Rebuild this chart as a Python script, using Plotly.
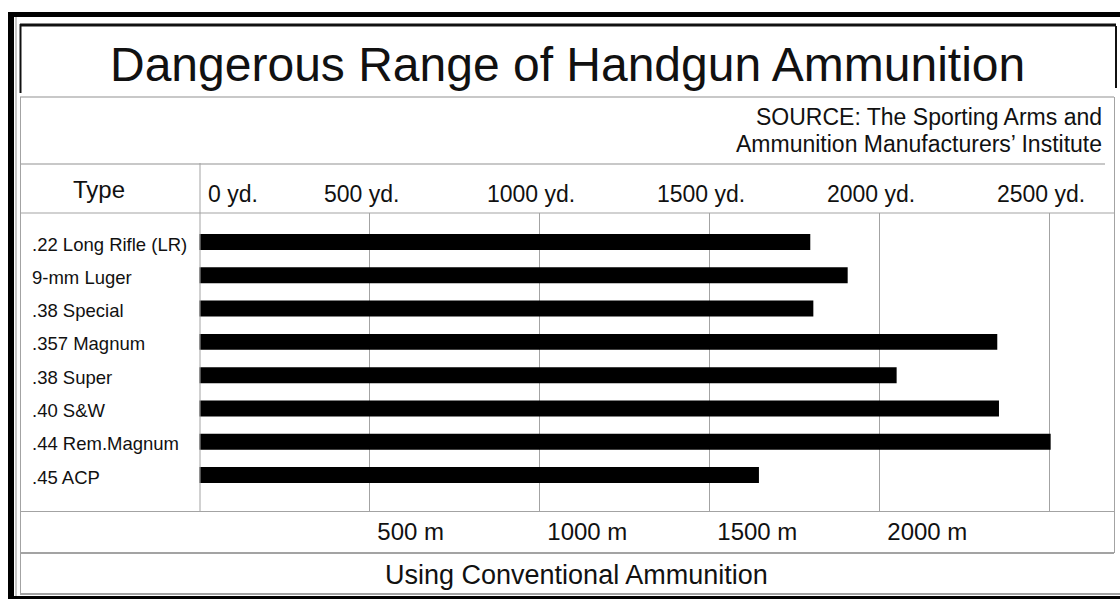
import plotly.graph_objects as go

# ---------------- data ----------------
categories = [".22 Long Rifle (LR)", "9-mm Luger", ".38 Special", ".357 Magnum",
              ".38 Super", ".40 S&W", ".44 Rem.Magnum", ".45 ACP"]
danger_range_m = [1797, 1907, 1806, 2347, 2051, 2352, 2504, 1646]

yd_tick_vals = [0, 500, 1000, 1500, 2000, 2500]
yd_tick_text = ["0 yd.", "500 yd.", "1000 yd.", "1500 yd.", "2000 yd.", "2500 yd."]
m_tick_vals = [500, 1000, 1500, 2000, 2500]
m_tick_text = ["500 m", "1000 m", "1500 m", "2000 m", ""]

title_text = "Dangerous Range of Handgun Ammunition"
source_lines = ["SOURCE: The Sporting Arms and", "Ammunition Manufacturers\u2019 Institute"]
header_text = "Type"
footer_text = "Using Conventional Ammunition"

# ---------------- layout helpers ----------------
W, H = 1120, 599
FONT = "Liberation Sans, Arial, Helvetica, sans-serif"
GRAY = "#a3a3a3"
LIGHT = "#c8c8c8"


def px(x):
    return x / W


def py(y):
    return 1 - y / H


fig = go.Figure()
fig.add_trace(go.Bar(
    x=danger_range_m, y=categories, orientation="h",
    marker=dict(color="#000000", line=dict(width=0)),
    width=0.48, hoverinfo="x+y", showlegend=False,
))

shapes = []


def rect(x0, y0, x1, y1, color):
    shapes.append(dict(type="rect", xref="paper", yref="paper",
                       x0=px(x0), x1=px(x1), y0=py(y1), y1=py(y0),
                       fillcolor=color, line=dict(width=0), layer="above"))


def hline(y, x0, x1, color=GRAY, w=1):
    shapes.append(dict(type="line", xref="paper", yref="paper",
                       x0=px(x0), x1=px(x1), y0=py(y), y1=py(y),
                       line=dict(color=color, width=w), layer="above"))


def vline(x, y0, y1, color=GRAY, w=1):
    shapes.append(dict(type="line", xref="paper", yref="paper",
                       x0=px(x), x1=px(x), y0=py(y0), y1=py(y1),
                       line=dict(color=color, width=w), layer="above"))


# outer black frame
rect(8, 12, W, 17, "#000000")
rect(8, 12, 14, H, "#000000")
rect(8, 596, W, H, "#000000")
vline(16, 17, 596, LIGHT, 2)
# title box
hline(25, 20, 1116, "#111111", 3)
vline(20.5, 24, 93, "#111111", 2)
vline(1116, 26, 88, "#111111", 2)
# table lines
hline(97, 20, 1114, LIGHT, 2)
hline(164, 20, 1105, LIGHT, 2)
vline(20.5, 97, 594, GRAY, 1)
vline(1114.5, 97, 553, GRAY, 1)
hline(213, 20, 1114, GRAY, 1)
vline(200, 163, 511, GRAY, 1)
hline(511.5, 20, 1114, GRAY, 1)
hline(553, 20, 1114, GRAY, 2)
hline(594, 20, W, GRAY, 2)

annotations = []


def text(t, x, y, size, xanchor="center", xref="paper", **kw):
    annotations.append(dict(text=t, x=(px(x) if xref == "paper" else x), xref=xref,
                            y=py(y), yref="paper", xanchor=xanchor, yanchor="middle",
                            showarrow=False, font=dict(family=FONT, size=size, color="#111111"),
                            **kw))


text(title_text, 567, 64, 48)
text(source_lines[0], 1104, 117, 23, xanchor="right")
text(source_lines[1], 1104, 144, 23, xanchor="right")
text(header_text, 99, 189, 24)
for v, t in zip(yd_tick_vals, yd_tick_text):
    if v == 0:
        text(t, v, 194, 23, xanchor="left", xref="x", xshift=7)
    else:
        text(t, v, 194, 23, xanchor="center", xref="x", xshift=-8)
text(footer_text, 576, 575, 27)

for c in categories:
    annotations.append(dict(text=c, x=px(30), xref="paper", y=c, yref="y",
                            xanchor="left", yanchor="middle", yshift=-2, showarrow=False,
                            font=dict(family=FONT, size=18.5, color="#111111")))

x_max = (1114 - 199.3) / 0.34
fig.update_layout(
    width=W, height=H, margin=dict(l=0, r=0, t=0, b=0),
    paper_bgcolor="white", plot_bgcolor="white",
    shapes=shapes, annotations=annotations, bargap=0.5,
    xaxis=dict(domain=[px(199.3), px(1114)], range=[0, x_max],
               tickvals=m_tick_vals, ticktext=m_tick_text,
               ticklabelposition="outside right", ticklabelshift=8, ticklabelstandoff=4,
               showgrid=True, gridcolor=GRAY, gridwidth=1, zeroline=False,
               showline=False, ticks="", tickfont=dict(family=FONT, size=24, color="#111111"),
               fixedrange=True),
    yaxis=dict(domain=[py(511), py(213)], type="category",
               categoryorder="array", categoryarray=categories,
               range=[8.08, -0.871], showticklabels=False, showgrid=False,
               zeroline=False, showline=False, ticks="", fixedrange=True),
    showlegend=False,
)

fig.write_html(
    "out.html",
    config={"displayModeBar": False},
    post_script="document.body.style.margin='0px';document.body.style.overflow='hidden';",
)
